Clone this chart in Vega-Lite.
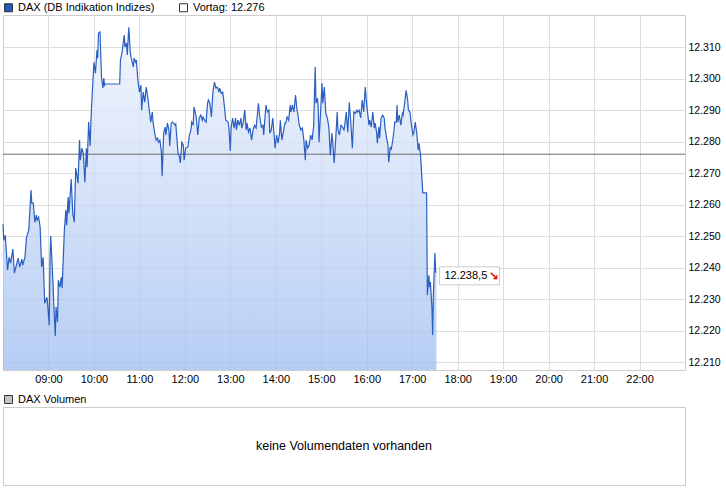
{
  "$schema": "https://vega.github.io/schema/vega-lite/v6.json",
  "background": "white",
  "padding": {"left": 0, "top": 1, "right": 0, "bottom": 0},
  "spacing": 8,
  "config": {
    "font": "Liberation Sans",
    "view": {"stroke": "#cccccc"},
    "axis": {"labelFont": "Liberation Sans", "labelColor": "#000000", "labelFontSize": 11, "domain": false, "ticks": false, "gridColor": "#dddddd", "title": null},
    "legend": {"orient": "top", "title": null, "symbolType": "square", "symbolSize": 64, "symbolStrokeColor": "#333333", "symbolStrokeWidth": 1, "symbolOpacity": 1, "labelFont": "Liberation Sans", "labelFontSize": 11, "labelColor": "#000000", "labelOffset": 4, "columnPadding": 22, "offset": 1, "padding": 0}
  },
  "resolve": {"scale": {"fill": "independent"}, "legend": {"fill": "independent"}},
  "datasets": {
    "dax": [
      {"t":"2019-06-17 08:00","v":12253.8},{"t":"2019-06-17 08:01","v":12248.7},{"t":"2019-06-17 08:03","v":12250.3},{"t":"2019-06-17 08:06","v":12239.2},{"t":"2019-06-17 08:08","v":12243.3},{"t":"2019-06-17 08:10","v":12241.4},{"t":"2019-06-17 08:13","v":12245.9},{"t":"2019-06-17 08:15","v":12238.3},{"t":"2019-06-17 08:17","v":12240.2},{"t":"2019-06-17 08:20","v":12243.0},{"t":"2019-06-17 08:22","v":12240.2},{"t":"2019-06-17 08:25","v":12242.7},{"t":"2019-06-17 08:26","v":12240.8},{"t":"2019-06-17 08:29","v":12243.3},{"t":"2019-06-17 08:31","v":12249.7},{"t":"2019-06-17 08:34","v":12251.9},{"t":"2019-06-17 08:37","v":12264.6},{"t":"2019-06-17 08:38","v":12260.5},{"t":"2019-06-17 08:40","v":12260.5},{"t":"2019-06-17 08:42","v":12254.4},{"t":"2019-06-17 08:44","v":12256.7},{"t":"2019-06-17 08:45","v":12255.1},{"t":"2019-06-17 08:47","v":12256.0},{"t":"2019-06-17 08:49","v":12252.9},{"t":"2019-06-17 08:51","v":12240.2},{"t":"2019-06-17 08:53","v":12243.3},{"t":"2019-06-17 08:55","v":12228.7},{"t":"2019-06-17 08:58","v":12230.6},{"t":"2019-06-17 08:59","v":12228.1},
      {"t":"2019-06-17 09:01","v":12221.7},{"t":"2019-06-17 09:02","v":12242.4},{"t":"2019-06-17 09:03","v":12250.0},{"t":"2019-06-17 09:06","v":12235.1},{"t":"2019-06-17 09:07","v":12228.7},{"t":"2019-06-17 09:09","v":12218.3},{"t":"2019-06-17 09:10","v":12227.5},{"t":"2019-06-17 09:12","v":12222.7},{"t":"2019-06-17 09:13","v":12236.0},{"t":"2019-06-17 09:15","v":12233.8},{"t":"2019-06-17 09:17","v":12237.0},{"t":"2019-06-17 09:18","v":12233.5},{"t":"2019-06-17 09:21","v":12251.9},{"t":"2019-06-17 09:23","v":12258.3},{"t":"2019-06-17 09:24","v":12253.5},{"t":"2019-06-17 09:26","v":12262.4},{"t":"2019-06-17 09:27","v":12257.3},{"t":"2019-06-17 09:30","v":12268.1},{"t":"2019-06-17 09:32","v":12257.3},{"t":"2019-06-17 09:34","v":12254.4},{"t":"2019-06-17 09:36","v":12271.6},{"t":"2019-06-17 09:39","v":12266.8},{"t":"2019-06-17 09:41","v":12280.5},{"t":"2019-06-17 09:42","v":12274.1},{"t":"2019-06-17 09:44","v":12277.9},{"t":"2019-06-17 09:46","v":12276.3},{"t":"2019-06-17 09:48","v":12267.1},{"t":"2019-06-17 09:50","v":12277.9},{"t":"2019-06-17 09:51","v":12271.9},{"t":"2019-06-17 09:53","v":12286.2},{"t":"2019-06-17 09:55","v":12278.6},{"t":"2019-06-17 09:56","v":12286.2},{"t":"2019-06-17 09:57","v":12291.6},
      {"t":"2019-06-17 10:00","v":12305.2},{"t":"2019-06-17 10:02","v":12301.7},{"t":"2019-06-17 10:04","v":12309.0},{"t":"2019-06-17 10:05","v":12306.5},{"t":"2019-06-17 10:06","v":12314.4},{"t":"2019-06-17 10:08","v":12314.8},{"t":"2019-06-17 10:10","v":12300.2},{"t":"2019-06-17 10:12","v":12297.0},{"t":"2019-06-17 10:13","v":12300.2},{"t":"2019-06-17 10:14","v":12297.9},{"t":"2019-06-17 10:15","v":12298.3},{"t":"2019-06-17 10:34","v":12298.3},{"t":"2019-06-17 10:35","v":12305.9},{"t":"2019-06-17 10:37","v":12308.1},{"t":"2019-06-17 10:40","v":12313.8},{"t":"2019-06-17 10:41","v":12310.0},{"t":"2019-06-17 10:43","v":12311.3},{"t":"2019-06-17 10:44","v":12307.5},{"t":"2019-06-17 10:46","v":12316.3},{"t":"2019-06-17 10:48","v":12308.1},{"t":"2019-06-17 10:49","v":12306.8},{"t":"2019-06-17 10:52","v":12303.7},{"t":"2019-06-17 10:53","v":12306.5},{"t":"2019-06-17 10:55","v":12305.2},{"t":"2019-06-17 10:56","v":12305.9},{"t":"2019-06-17 10:58","v":12299.5},
      {"t":"2019-06-17 11:00","v":12295.7},{"t":"2019-06-17 11:02","v":12297.9},{"t":"2019-06-17 11:03","v":12290.0},{"t":"2019-06-17 11:05","v":12295.7},{"t":"2019-06-17 11:07","v":12292.5},{"t":"2019-06-17 11:09","v":12297.3},{"t":"2019-06-17 11:11","v":12294.1},{"t":"2019-06-17 11:13","v":12290.0},{"t":"2019-06-17 11:15","v":12286.2},{"t":"2019-06-17 11:17","v":12289.4},{"t":"2019-06-17 11:18","v":12286.2},{"t":"2019-06-17 11:20","v":12283.0},{"t":"2019-06-17 11:22","v":12280.5},{"t":"2019-06-17 11:24","v":12281.1},{"t":"2019-06-17 11:25","v":12279.8},{"t":"2019-06-17 11:27","v":12280.5},{"t":"2019-06-17 11:29","v":12276.7},{"t":"2019-06-17 11:30","v":12269.0},{"t":"2019-06-17 11:32","v":12282.7},{"t":"2019-06-17 11:34","v":12284.6},{"t":"2019-06-17 11:35","v":12282.1},{"t":"2019-06-17 11:37","v":12285.9},{"t":"2019-06-17 11:39","v":12283.7},{"t":"2019-06-17 11:40","v":12278.6},{"t":"2019-06-17 11:42","v":12285.9},{"t":"2019-06-17 11:44","v":12286.2},{"t":"2019-06-17 11:47","v":12285.2},{"t":"2019-06-17 11:48","v":12285.6},{"t":"2019-06-17 11:51","v":12276.3},{"t":"2019-06-17 11:53","v":12275.1},{"t":"2019-06-17 11:54","v":12273.2},{"t":"2019-06-17 11:56","v":12279.8},{"t":"2019-06-17 11:58","v":12278.9},{"t":"2019-06-17 11:59","v":12274.1},
      {"t":"2019-06-17 12:01","v":12277.9},{"t":"2019-06-17 12:04","v":12278.3},{"t":"2019-06-17 12:06","v":12282.1},{"t":"2019-06-17 12:08","v":12283.7},{"t":"2019-06-17 12:09","v":12286.2},{"t":"2019-06-17 12:11","v":12285.2},{"t":"2019-06-17 12:12","v":12291.0},{"t":"2019-06-17 12:15","v":12287.8},{"t":"2019-06-17 12:17","v":12282.1},{"t":"2019-06-17 12:19","v":12287.5},{"t":"2019-06-17 12:21","v":12288.4},{"t":"2019-06-17 12:23","v":12286.8},{"t":"2019-06-17 12:24","v":12287.8},{"t":"2019-06-17 12:26","v":12286.8},{"t":"2019-06-17 12:28","v":12286.2},{"t":"2019-06-17 12:30","v":12292.2},{"t":"2019-06-17 12:31","v":12293.2},{"t":"2019-06-17 12:33","v":12292.2},{"t":"2019-06-17 12:35","v":12287.8},{"t":"2019-06-17 12:37","v":12295.7},{"t":"2019-06-17 12:39","v":12298.9},{"t":"2019-06-17 12:41","v":12297.0},{"t":"2019-06-17 12:43","v":12297.3},{"t":"2019-06-17 12:45","v":12295.7},{"t":"2019-06-17 12:46","v":12297.0},{"t":"2019-06-17 12:48","v":12295.4},{"t":"2019-06-17 12:50","v":12295.7},{"t":"2019-06-17 12:52","v":12291.6},{"t":"2019-06-17 12:54","v":12286.8},{"t":"2019-06-17 12:57","v":12286.2},{"t":"2019-06-17 12:58","v":12284.6},
      {"t":"2019-06-17 13:00","v":12277.0},{"t":"2019-06-17 13:01","v":12284.3},{"t":"2019-06-17 13:03","v":12287.5},{"t":"2019-06-17 13:05","v":12284.3},{"t":"2019-06-17 13:07","v":12287.5},{"t":"2019-06-17 13:08","v":12283.7},{"t":"2019-06-17 13:10","v":12286.8},{"t":"2019-06-17 13:12","v":12285.2},{"t":"2019-06-17 13:14","v":12287.5},{"t":"2019-06-17 13:15","v":12284.3},{"t":"2019-06-17 13:17","v":12285.9},{"t":"2019-06-17 13:19","v":12290.0},{"t":"2019-06-17 13:21","v":12283.7},{"t":"2019-06-17 13:22","v":12285.9},{"t":"2019-06-17 13:24","v":12283.0},{"t":"2019-06-17 13:26","v":12284.3},{"t":"2019-06-17 13:28","v":12280.5},{"t":"2019-06-17 13:30","v":12283.7},{"t":"2019-06-17 13:32","v":12285.2},{"t":"2019-06-17 13:34","v":12284.3},{"t":"2019-06-17 13:36","v":12289.4},{"t":"2019-06-17 13:37","v":12292.2},{"t":"2019-06-17 13:39","v":12287.5},{"t":"2019-06-17 13:41","v":12284.6},{"t":"2019-06-17 13:43","v":12285.2},{"t":"2019-06-17 13:44","v":12282.1},{"t":"2019-06-17 13:47","v":12291.6},{"t":"2019-06-17 13:49","v":12289.4},{"t":"2019-06-17 13:51","v":12290.0},{"t":"2019-06-17 13:52","v":12282.7},{"t":"2019-06-17 13:54","v":12283.7},{"t":"2019-06-17 13:56","v":12287.5},{"t":"2019-06-17 13:58","v":12281.4},{"t":"2019-06-17 13:59","v":12277.9},
      {"t":"2019-06-17 14:01","v":12282.1},{"t":"2019-06-17 14:03","v":12279.5},{"t":"2019-06-17 14:05","v":12282.7},{"t":"2019-06-17 14:06","v":12286.8},{"t":"2019-06-17 14:08","v":12280.5},{"t":"2019-06-17 14:10","v":12283.0},{"t":"2019-06-17 14:12","v":12285.9},{"t":"2019-06-17 14:13","v":12285.9},{"t":"2019-06-17 14:15","v":12287.8},{"t":"2019-06-17 14:17","v":12286.8},{"t":"2019-06-17 14:19","v":12291.6},{"t":"2019-06-17 14:20","v":12289.4},{"t":"2019-06-17 14:22","v":12291.6},{"t":"2019-06-17 14:24","v":12289.4},{"t":"2019-06-17 14:26","v":12294.8},{"t":"2019-06-17 14:28","v":12290.0},{"t":"2019-06-17 14:29","v":12289.0},{"t":"2019-06-17 14:31","v":12285.2},{"t":"2019-06-17 14:33","v":12283.7},{"t":"2019-06-17 14:35","v":12284.3},{"t":"2019-06-17 14:37","v":12280.5},{"t":"2019-06-17 14:39","v":12274.1},{"t":"2019-06-17 14:40","v":12280.5},{"t":"2019-06-17 14:42","v":12277.9},{"t":"2019-06-17 14:44","v":12278.9},{"t":"2019-06-17 14:46","v":12282.1},{"t":"2019-06-17 14:48","v":12280.5},{"t":"2019-06-17 14:50","v":12285.2},{"t":"2019-06-17 14:52","v":12303.7},{"t":"2019-06-17 14:53","v":12292.2},{"t":"2019-06-17 14:55","v":12293.8},{"t":"2019-06-17 14:56","v":12290.6},{"t":"2019-06-17 14:57","v":12279.8},{"t":"2019-06-17 14:59","v":12289.0},
      {"t":"2019-06-17 15:01","v":12298.6},{"t":"2019-06-17 15:02","v":12292.2},{"t":"2019-06-17 15:04","v":12297.3},{"t":"2019-06-17 15:06","v":12289.0},{"t":"2019-06-17 15:08","v":12287.5},{"t":"2019-06-17 15:10","v":12284.6},{"t":"2019-06-17 15:12","v":12275.7},{"t":"2019-06-17 15:14","v":12282.7},{"t":"2019-06-17 15:15","v":12280.5},{"t":"2019-06-17 15:17","v":12273.2},{"t":"2019-06-17 15:19","v":12280.5},{"t":"2019-06-17 15:21","v":12289.4},{"t":"2019-06-17 15:22","v":12283.7},{"t":"2019-06-17 15:24","v":12282.1},{"t":"2019-06-17 15:26","v":12285.2},{"t":"2019-06-17 15:28","v":12284.6},{"t":"2019-06-17 15:30","v":12283.7},{"t":"2019-06-17 15:31","v":12285.2},{"t":"2019-06-17 15:33","v":12289.4},{"t":"2019-06-17 15:35","v":12283.0},{"t":"2019-06-17 15:37","v":12292.5},{"t":"2019-06-17 15:39","v":12285.9},{"t":"2019-06-17 15:41","v":12277.9},{"t":"2019-06-17 15:43","v":12289.4},{"t":"2019-06-17 15:45","v":12289.0},{"t":"2019-06-17 15:47","v":12290.0},{"t":"2019-06-17 15:48","v":12289.4},{"t":"2019-06-17 15:50","v":12290.0},{"t":"2019-06-17 15:52","v":12287.5},{"t":"2019-06-17 15:54","v":12293.2},{"t":"2019-06-17 15:56","v":12289.4},{"t":"2019-06-17 15:58","v":12297.3},
      {"t":"2019-06-17 16:00","v":12291.6},{"t":"2019-06-17 16:03","v":12285.2},{"t":"2019-06-17 16:04","v":12286.8},{"t":"2019-06-17 16:06","v":12284.6},{"t":"2019-06-17 16:08","v":12289.4},{"t":"2019-06-17 16:10","v":12284.3},{"t":"2019-06-17 16:11","v":12285.9},{"t":"2019-06-17 16:13","v":12283.0},{"t":"2019-06-17 16:14","v":12279.5},{"t":"2019-06-17 16:16","v":12284.6},{"t":"2019-06-17 16:17","v":12281.1},{"t":"2019-06-17 16:19","v":12287.5},{"t":"2019-06-17 16:21","v":12288.4},{"t":"2019-06-17 16:23","v":12287.5},{"t":"2019-06-17 16:24","v":12284.6},{"t":"2019-06-17 16:26","v":12281.4},{"t":"2019-06-17 16:28","v":12278.9},{"t":"2019-06-17 16:29","v":12273.5},{"t":"2019-06-17 16:31","v":12278.3},{"t":"2019-06-17 16:32","v":12277.3},{"t":"2019-06-17 16:34","v":12279.8},{"t":"2019-06-17 16:36","v":12283.7},{"t":"2019-06-17 16:37","v":12286.2},{"t":"2019-06-17 16:39","v":12286.2},{"t":"2019-06-17 16:40","v":12291.6},{"t":"2019-06-17 16:41","v":12286.2},{"t":"2019-06-17 16:43","v":12288.4},{"t":"2019-06-17 16:45","v":12285.2},{"t":"2019-06-17 16:47","v":12289.0},{"t":"2019-06-17 16:48","v":12288.4},{"t":"2019-06-17 16:50","v":12292.2},{"t":"2019-06-17 16:52","v":12296.3},{"t":"2019-06-17 16:54","v":12293.2},{"t":"2019-06-17 16:55","v":12290.0},{"t":"2019-06-17 16:57","v":12289.4},{"t":"2019-06-17 16:59","v":12285.2},
      {"t":"2019-06-17 17:01","v":12282.1},{"t":"2019-06-17 17:02","v":12282.7},{"t":"2019-06-17 17:04","v":12286.2},{"t":"2019-06-17 17:06","v":12282.7},{"t":"2019-06-17 17:08","v":12277.3},{"t":"2019-06-17 17:09","v":12279.5},{"t":"2019-06-17 17:11","v":12275.7},{"t":"2019-06-17 17:14","v":12263.7},{"t":"2019-06-17 17:19","v":12263.7},{"t":"2019-06-17 17:20","v":12231.3},{"t":"2019-06-17 17:22","v":12237.6},{"t":"2019-06-17 17:23","v":12233.8},{"t":"2019-06-17 17:24","v":12235.4},{"t":"2019-06-17 17:26","v":12227.5},{"t":"2019-06-17 17:27","v":12218.6},{"t":"2019-06-17 17:28","v":12231.9},{"t":"2019-06-17 17:30","v":12244.6},{"t":"2019-06-17 17:31","v":12238.6},{"t":"2019-06-17 17:32","v":12238.5}
    ],
    "last": [{"t":"2019-06-17 17:32","v":12238.5,"label":"12.238,5","arrow":"↘"}],
    "vortag": [{"v":12276}],
    "series": [{"s":"DAX (DB Indikation Indizes)"},{"s":"Vortag: 12.276"}],
    "volume": [{"s":"DAX Volumen","msg":"keine Volumendaten vorhanden"}]
  },
  "vconcat": [
    {
      "width": 682,
      "height": 355,
      "encoding": {
        "x": {"field": "t", "type": "temporal",
          "scale": {"domain": [{"year":2019,"month":6,"date":17,"hours":8},{"year":2019,"month":6,"date":17,"hours":23}]},
          "axis": {"format": "%H:%M", "labelPadding": 3, "grid": true,
            "values": [{"year":2019,"month":6,"date":17,"hours":9},{"year":2019,"month":6,"date":17,"hours":10},{"year":2019,"month":6,"date":17,"hours":11},{"year":2019,"month":6,"date":17,"hours":12},{"year":2019,"month":6,"date":17,"hours":13},{"year":2019,"month":6,"date":17,"hours":14},{"year":2019,"month":6,"date":17,"hours":15},{"year":2019,"month":6,"date":17,"hours":16},{"year":2019,"month":6,"date":17,"hours":17},{"year":2019,"month":6,"date":17,"hours":18},{"year":2019,"month":6,"date":17,"hours":19},{"year":2019,"month":6,"date":17,"hours":20},{"year":2019,"month":6,"date":17,"hours":21},{"year":2019,"month":6,"date":17,"hours":22}]}},
        "y": {"field": "v", "type": "quantitative",
          "scale": {"domain": [12207.5, 12320.2], "zero": false, "nice": false},
          "axis": {"orient": "right", "labelPadding": 3, "grid": true, "labelFontSize": 10.5,
            "values": [12210,12220,12230,12240,12250,12260,12270,12280,12290,12300,12310],
            "labelExpr": "format(datum.value/1000, '.3f')"}}
      },
      "layer": [
        {"data": {"name": "dax"},
         "mark": {"type": "area", "fillOpacity": 0.75,
           "fill": {"gradient": "linear", "x1": 0, "y1": 0, "x2": 0, "y2": 1, "stops": [{"offset": 0, "color": "#eef3fd"}, {"offset": 1, "color": "#9ebdf0"}]}},
         "encoding": {"y2": {"datum": 12207.5}}},
        {"data": {"name": "vortag"},
         "mark": {"type": "rule", "color": "#6e6e6e", "strokeWidth": 1},
         "encoding": {"x": null, "y": {"field": "v", "type": "quantitative"}}},
        {"data": {"name": "dax"},
         "mark": {"type": "line", "color": "#2a5fc1", "strokeWidth": 1.2}},
        {"data": {"name": "series"},
         "mark": {"type": "point", "shape": "square", "filled": true, "opacity": 0},
         "encoding": {"x": null, "y": null,
           "fill": {"field": "s", "type": "nominal",
             "scale": {"domain": ["DAX (DB Indikation Indizes)", "Vortag: 12.276"], "range": ["#2059c0", "#ffffff"]},
             "legend": {"orient": "top", "direction": "horizontal"}}}},
        {"data": {"name": "last"},
         "mark": {"type": "point", "shape": "M-1,-0.3L1,-0.3L1,0.3L-1,0.3Z", "size": 3600, "filled": true, "fill": "#ffffff", "stroke": "#cccccc", "strokeWidth": 1, "opacity": 1, "xOffset": 33, "yOffset": 3.5}},
        {"data": {"name": "last"},
         "mark": {"type": "text", "align": "left", "baseline": "middle", "dx": 8, "dy": 3.5, "fontSize": 11, "color": "#000000"},
         "encoding": {"text": {"field": "label"}}},
        {"data": {"name": "last"},
         "mark": {"type": "text", "align": "center", "baseline": "middle", "dx": 57, "dy": 3.5, "fontSize": 12, "fontWeight": "bold", "color": "#e00000", "font": "DejaVu Sans"},
         "encoding": {"text": {"field": "arrow"}}}
      ]
    },
    {
      "width": 682,
      "height": 78,
      "view": {"stroke": "#cccccc"},
      "data": {"name": "volume"},
      "layer": [
        {"mark": {"type": "text", "fontSize": 12.5, "color": "#000000"},
         "encoding": {"text": {"field": "msg"}}},
        {"mark": {"type": "point", "shape": "square", "filled": true, "opacity": 0},
         "encoding": {"fill": {"field": "s", "type": "nominal", "scale": {"range": ["#c4c4c4"]}, "legend": {"orient": "top"}}}}
      ]
    }
  ]
}
